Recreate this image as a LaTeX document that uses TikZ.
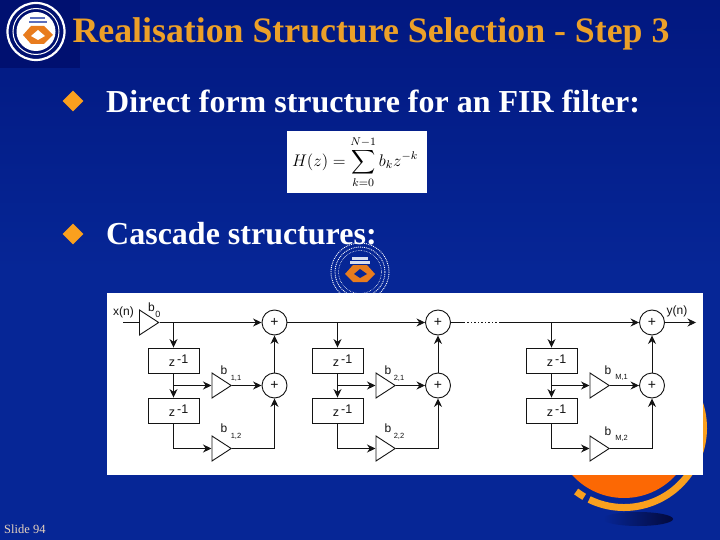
\documentclass[tikz,border=0pt]{standalone}
\usepackage{fontspec}
\setmainfont{Liberation Serif}
\setsansfont{Liberation Sans}
\usepackage{amsmath}
\usetikzlibrary{arrows.meta,shapes.geometric}
\definecolor{SlideBlue}{RGB}{6,38,150}
\definecolor{SlideDeep}{RGB}{2,24,128}
\definecolor{SlideNavy}{RGB}{0,16,112}
\definecolor{SlideShadow}{RGB}{4,10,60}
\definecolor{SlideOrange}{RGB}{252,104,4}
\definecolor{SlideAmber}{RGB}{250,160,30}
\definecolor{SlideTitle}{RGB}{236,160,40}
\definecolor{SlideFoot}{RGB}{230,210,190}
\definecolor{LogoOrange}{RGB}{232,124,30}
\definecolor{LogoStripe}{RGB}{90,110,190}
\definecolor{BlockInk}{gray}{0.08}
\def\DelayText{\hspace*{10pt}z\,\raisebox{3pt}{-1}}
\tikzset{
    block/diagram/.style={
        x=1pt, y=-1pt,
        line cap=butt,
        >={Stealth[length=8.5pt, width=8pt]}
    },
    block/wire/.style={draw=BlockInk, line width=0.9pt},
    block/flow/.style={block/wire, ->},
    block/sum/.style={
        circle, draw=BlockInk, fill=white, line width=0.9pt,
        minimum size=25pt, inner sep=0pt,
        font=\sffamily\fontsize{14}{14}\selectfont, text=BlockInk
    },
    block/delay/.style={
        rectangle, draw=BlockInk, fill=white, line width=0.9pt,
        minimum width=51pt, minimum height=25pt, inner sep=0pt,
        font=\sffamily\fontsize{12.5}{14}\selectfont, text=BlockInk
    },
    block/gain/.style={
        isosceles triangle, isosceles triangle apex angle=66,
        draw=BlockInk, fill=white, line width=0.9pt,
        minimum height=19pt, minimum width=25pt, inner sep=0pt,
        anchor=lower side
    },
    block/label/.style={
        font=\sffamily\fontsize{12}{14}\selectfont, text=BlockInk, inner sep=0pt
    },
    block/index/.style={
        font=\sffamily\fontsize{7.5}{9}\selectfont, text=BlockInk, inner sep=0pt
    },
    slide/bullet/.style={diamond, fill=SlideAmber, minimum size=21pt, inner sep=0pt},
    slide/body/.style={
        font=\bfseries\fontsize{32}{36}\selectfont, text=white,
        anchor=west, inner sep=0pt
    },
    slide/ring/.style={draw=white, fill=none}
}
\begin{document}
\begin{tikzpicture}[block/diagram]
    \useasboundingbox (0,0) rectangle (720,540);
    % background
    \shade[top color=SlideDeep, bottom color=SlideBlue] (0,0) rectangle (720,270);
    \fill[SlideBlue] (0,270) rectangle (720,540);
    % globe bottom right
    \shade[left color=SlideBlue, right color=SlideShadow] (638,519) ellipse (35 and 7);
    \draw[SlideAmber, line width=7pt] (624,428) ++(116:79.5) arc (116:-25:79.5);
    \draw[SlideAmber, line width=7pt] (624,428) ++(127:79.5) arc (127:120:79.5);
    \fill[SlideOrange] (624,428) circle (70);
    % logo top left
    \fill[SlideNavy] (0,0) rectangle (80,68);
    \draw[slide/ring, line width=2.2pt] (36,31.5) circle (28.5);
    \draw[slide/ring, line width=1pt] (36,31.5) circle (23);
    \fill[white] (36,31.5) circle (19.5);
    \fill[LogoOrange] (23,35) -- (31,26) -- (44,26) -- (53,35) -- (44,44) -- (31,44) -- cycle;
    \fill[white] (31,36) -- (38,30) -- (45,36) -- (38,40) -- cycle;
    \fill[LogoStripe] (30,17) rectangle (45,19.5);
    \fill[LogoStripe] (29,21) rectangle (47,23.5);
    % small logo
    \draw[white, densely dotted, line width=0.9pt] (360,272) circle (29);
    \draw[white, densely dotted, line width=0.9pt] (360,272) circle (25);
    \draw[white, densely dotted, line width=0.6pt] (360,272) circle (21.5);
    \fill[LogoOrange] (345,274) -- (353,265) -- (367,265) -- (375,274) -- (367,282) -- (353,282) -- cycle;
    \fill[SlideBlue] (354,274) -- (360,269) -- (367,274) -- (360,278) -- cycle;
    \fill[white!85!SlideBlue] (352,257) rectangle (368,259.5);
    \fill[white!85!SlideBlue] (350,261) rectangle (370,263.5);
    % title and text
    \node[font=\bfseries\fontsize{35.8}{38}\selectfont, text=SlideTitle, inner sep=0pt] (Title) at (371,34) {Realisation Structure Selection - Step 3};
    \node[slide/bullet] (BulletOne) at (73,101) {};
    \node[slide/body] (DirectText) at (106,101) {Direct form structure for an FIR filter:};
    \node[slide/bullet] (BulletTwo) at (73,234) {};
    \node[slide/body] (CascadeText) at (106,234) {Cascade structures:};
    \node[font=\fontsize{12.5}{14}\selectfont, text=SlideFoot, anchor=west, inner sep=0pt] (SlideNo) at (4,529) {Slide 94};
    % formula
    \fill[white] (287,131) rectangle (427,193);
    \node[text=black, inner sep=0pt] (Formula) at (355,162) {\scalebox{1.4}{\large $\displaystyle H(z)=\sum_{k=0}^{N-1} b_k z^{-k}$}};
    % block diagram panel
    \fill[white] (107,293) rectangle (703,475);
    \coordinate (InStart) at (123,322.5);
    \node[block/gain] (GainO) at (139,322.5) {};
    \node[block/label] (LabelIn) at (123.5,312.5) {x(n)};
    \node[block/label] (LabelO) at (151.5,307) {b};
    \node[block/index, font=\sffamily\fontsize{9}{9}\selectfont] (IndexO) at (158,314) {0};
    % first section
    \node[block/sum] (SumA) at (274.5,322.5) {+};
    \node[block/sum] (SumB) at (274.5,385.5) {+};
    \node[block/delay] (DelayA) at (173.5,360.5) {\DelayText};
    \node[block/delay] (DelayB) at (173.5,410.5) {\DelayText};
    \node[block/gain] (GainA) at (211.5,385.5) {};
    \node[block/gain] (GainB) at (211.5,448.5) {};
    \node[block/label] (LabelA) at (224,370) {b};
    \node[block/index] (IndexA) at (236,378) {1,1};
    \node[block/label] (LabelB) at (224,428) {b};
    \node[block/index] (IndexB) at (236,436) {1,2};
    % second section
    \node[block/sum] (SumC) at (438,322.5) {+};
    \node[block/sum] (SumD) at (438,385.5) {+};
    \node[block/delay] (DelayC) at (337.5,360.5) {\DelayText};
    \node[block/delay] (DelayD) at (337.5,410.5) {\DelayText};
    \node[block/gain] (GainC) at (375.5,385.5) {};
    \node[block/gain] (GainD) at (375.5,448.5) {};
    \node[block/label] (LabelC) at (388,370) {b};
    \node[block/index] (IndexC) at (399,378) {2,1};
    \node[block/label] (LabelD) at (388,428) {b};
    \node[block/index] (IndexD) at (399,436) {2,2};
    % last section
    \node[block/sum] (SumE) at (652,322.5) {+};
    \node[block/sum] (SumF) at (652,385.5) {+};
    \node[block/delay] (DelayE) at (551.5,360.5) {\DelayText};
    \node[block/delay] (DelayF) at (551.5,410.5) {\DelayText};
    \node[block/gain] (GainE) at (589.5,385.5) {};
    \node[block/gain] (GainF) at (589.5,448.5) {};
    \node[block/label] (LabelE) at (608,370) {b};
    \node[block/index] (IndexE) at (621.5,377) {M,1};
    \node[block/label] (LabelF) at (608,431) {b};
    \node[block/index] (IndexF) at (621.5,438) {M,2};
    \coordinate (OutEnd) at (696,322.5);
    \node[block/label] (LabelOut) at (677,311) {y(n)};
    % wires
    \draw[block/wire] (InStart) -- (GainO.lower side);
    \draw[block/flow] (GainO.apex) -- (SumA);
    \draw[block/flow] (SumA) -- (SumC);
    \draw[block/flow] (SumC) -- (SumE);
    \draw[block/flow] (SumE) -- (OutEnd);
    \draw[white, line width=1pt, dash pattern=on 2pt off 1.5pt] (465,322.5) -- (499,322.5);
    \draw[block/flow] (DelayA.north |- SumA) -- (DelayA);
    \draw[block/flow] (DelayA) -- (DelayB);
    \draw[block/flow] (DelayA.south |- GainA.lower side) -- (GainA.lower side);
    \draw[block/flow] (GainA.apex) -- (SumB);
    \draw[block/flow] (DelayB.south) |- (GainB.lower side);
    \draw[block/flow] (GainB.apex) -| (SumB);
    \draw[block/flow] (SumB) -- (SumA);
    \draw[block/flow] (DelayC.north |- SumC) -- (DelayC);
    \draw[block/flow] (DelayC) -- (DelayD);
    \draw[block/flow] (DelayC.south |- GainC.lower side) -- (GainC.lower side);
    \draw[block/flow] (GainC.apex) -- (SumD);
    \draw[block/flow] (DelayD.south) |- (GainD.lower side);
    \draw[block/flow] (GainD.apex) -| (SumD);
    \draw[block/flow] (SumD) -- (SumC);
    \draw[block/flow] (DelayE.north |- SumE) -- (DelayE);
    \draw[block/flow] (DelayE) -- (DelayF);
    \draw[block/flow] (DelayE.south |- GainE.lower side) -- (GainE.lower side);
    \draw[block/flow] (GainE.apex) -- (SumF);
    \draw[block/flow] (DelayF.south) |- (GainF.lower side);
    \draw[block/flow] (GainF.apex) -| (SumF);
    \draw[block/flow] (SumF) -- (SumE);
\end{tikzpicture}
\end{document}
